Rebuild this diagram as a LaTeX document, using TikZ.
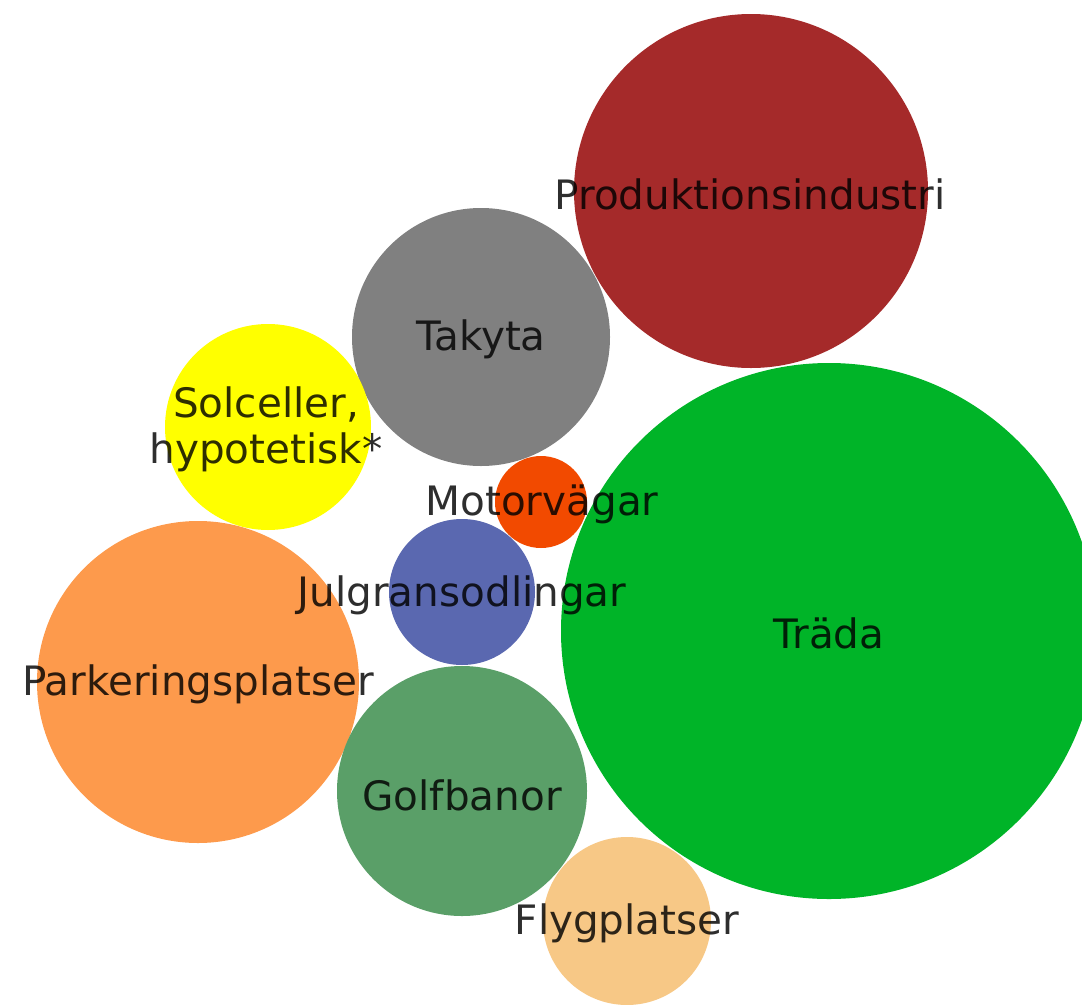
\documentclass[tikz,border=0pt]{standalone}
\usepackage{fontspec}
\setmainfont{DejaVu Sans}
\definecolor{cProd}{HTML}{A52A2A}
\definecolor{cTak}{HTML}{808080}
\definecolor{cSol}{HTML}{FFFF00}
\definecolor{cMot}{HTML}{F24A00}
\definecolor{cJul}{HTML}{5A68B0}
\definecolor{cPark}{HTML}{FD9A4C}
\definecolor{cGolf}{HTML}{5A9F68}
\definecolor{cFlyg}{HTML}{F7C886}
\definecolor{cTrada}{HTML}{00B428}
\begin{document}
\begin{tikzpicture}[x=1bp,y=-1bp,
  bubble/.style={circle, inner sep=0pt, outer sep=0pt, draw=none, minimum size=#1},
  lab/.style={text=black, text opacity=0.82, inner sep=0pt, align=center,
    font=\fontsize{40.5bp}{46bp}\selectfont}]
\useasboundingbox (0,0) rectangle (1082,1005);
\clip (0,0) rectangle (1082,1005);
% bubbles
\node[bubble=354bp, fill=cProd]  (prod)  at (751,191) {};
\node[bubble=258bp, fill=cTak]   (tak)   at (481,337) {};
\node[bubble=206bp, fill=cSol]   (sol)   at (268,427) {};
\node[bubble=92bp,  fill=cMot]   (mot)   at (541,502) {};
\node[bubble=146bp, fill=cJul]   (jul)   at (462,592) {};
\node[bubble=322bp, fill=cPark]  (park)  at (198,682) {};
\node[bubble=250bp, fill=cGolf]  (golf)  at (462,791) {};
\node[bubble=168bp, fill=cFlyg]  (flyg)  at (627,921) {};
\node[bubble=536bp, fill=cTrada] (trada) at (829,631) {};
% labels
\node[lab] (lprod)  at (750,194) {Produktionsindustri};
\node[lab] (ltak)   at (481,339) {Takyta};
\node[lab] (lsol)   at (266,429) {Solceller,\\hypotetisk*};
\node[lab] (lmot)   at (542,504) {Motorvägar};
\node[lab] (ljul)   at (462,595) {Julgransodlingar};
\node[lab] (lpark)  at (198,684) {Parkeringsplatser};
\node[lab] (lgolf)  at (462,795) {Golfbanor};
\node[lab] (lflyg)  at (627,923) {Flygplatser};
\node[lab] (ltrada) at (829,633) {Träda};
\end{tikzpicture}
\end{document}
